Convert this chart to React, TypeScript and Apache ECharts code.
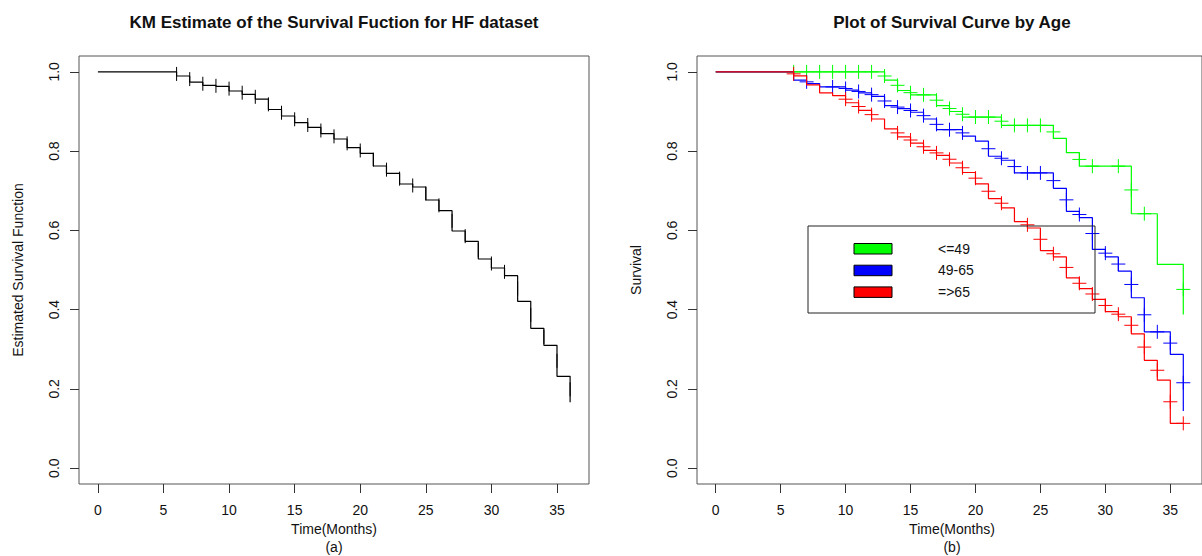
import React, { useEffect, useRef } from "react";
import * as echarts from "echarts";

// ---- Data ----
const xTicks = [0, 5, 10, 15, 20, 25, 30, 35];
const yTicks = [0, 0.2, 0.4, 0.6, 0.8, 1.0];

// (a) overall KM estimate: event times and survival after each drop
const kmTimes = [0, 6, 7, 8, 9, 10, 11, 12, 13, 14, 15, 16, 17, 18, 19, 20, 21, 22, 23, 24, 25, 26, 27, 28, 29, 30, 31, 32, 33, 34, 35, 36];
const kmSurv = [1.0, 0.9895, 0.974, 0.966, 0.9635, 0.9517, 0.943, 0.931, 0.905, 0.8886, 0.872, 0.86, 0.844, 0.8306, 0.8086, 0.7945, 0.7624, 0.744, 0.717, 0.7095, 0.6766, 0.6497, 0.5984, 0.5724, 0.5278, 0.505, 0.4857, 0.421, 0.3528, 0.31, 0.2318, 0.166];
const kmMarks = [6, 7, 8, 9, 10, 11, 12, 13, 14, 15, 16, 17, 18, 19, 20, 21, 22, 23, 24, 25, 26, 27, 28, 29, 30, 31, 32, 33, 34, 35, 36];

// (b) by age group
const groupNames = ["<=49", "49-65", "=>65"];
const groupColors = ["#00ff00", "#0000ff", "#ff0000"];

const greenTimes = [0, 13, 14, 15, 17, 18, 19, 22, 26, 27, 28, 32, 34, 36];
const greenSurv = [1.0, 0.979, 0.953, 0.942, 0.915, 0.9, 0.886, 0.865, 0.832, 0.796, 0.762, 0.642, 0.514, 0.388];
const greenMarks = [6, 7, 8, 9, 10, 11, 12, 13, 14, 15, 16, 17, 18, 19, 20, 21, 22, 23, 24, 25, 26, 28, 29, 31, 32, 33, 36];

const blueTimes = [0, 6, 7, 8, 10, 11, 12, 13, 14, 15, 16, 17, 19, 20, 21, 22, 23, 26, 27, 28, 29, 30, 31, 32, 33, 35, 36];
const blueSurv = [1.0, 0.979, 0.9705, 0.962, 0.954, 0.947, 0.938, 0.915, 0.907, 0.898, 0.881, 0.854, 0.838, 0.825, 0.787, 0.777, 0.745, 0.706, 0.648, 0.632, 0.552, 0.533, 0.497, 0.43, 0.344, 0.287, 0.144];
const blueMarks = [7, 9, 10, 11, 12, 13, 14, 15, 16, 17, 18, 19, 21, 22, 23, 24, 25, 26, 27, 28, 29, 30, 31, 32, 33, 34, 35, 36];

const redTimes = [0, 6, 7, 8, 9, 10, 11, 12, 13, 14, 15, 16, 17, 18, 19, 20, 21, 22, 23, 24, 25, 26, 27, 28, 29, 30, 31, 32, 33, 34, 35, 36];
const redSurv = [1.0, 0.99, 0.967, 0.947, 0.94, 0.922, 0.903, 0.881, 0.856, 0.836, 0.82, 0.802, 0.789, 0.77, 0.746, 0.7175, 0.68, 0.657, 0.622, 0.606, 0.549, 0.533, 0.48, 0.453, 0.426, 0.395, 0.382, 0.339, 0.272, 0.222, 0.113, 0.113];
const redMarks = [6, 10, 11, 12, 14, 15, 16, 17, 18, 19, 20, 21, 22, 24, 25, 26, 27, 28, 29, 30, 31, 32, 33, 34, 35, 36];

const FONT = "'Liberation Sans', Arial, Helvetica, sans-serif";

function survAt(times: number[], surv: number[], t: number) {
  let s = surv[0];
  for (let i = 0; i < times.length; i++) if (times[i] <= t) s = surv[i];
  return s;
}
function survBefore(times: number[], surv: number[], t: number) {
  let s = surv[0];
  for (let i = 0; i < times.length; i++) if (times[i] < t) s = surv[i];
  return s;
}
function markData(times: number[], surv: number[], marks: number[]) {
  return marks.map((t) => [t, (survBefore(times, surv, t) + survAt(times, surv, t)) / 2]);
}
function pairs(times: number[], surv: number[]) {
  return times.map((t, i) => [t, surv[i]]);
}

function markSeries(data: number[][], color: string, gi: number, cross: boolean, z: number) {
  return {
    type: "custom",
    xAxisIndex: gi,
    yAxisIndex: gi,
    silent: true,
    z,
    data,
    encode: { x: 0, y: 1 },
    renderItem: (params: any, api: any) => {
      const p = api.coord([api.value(0), api.value(1)]);
      const h = 7;
      const children: any[] = [
        { type: "line", shape: { x1: p[0], y1: p[1] - h, x2: p[0], y2: p[1] + h }, style: { stroke: color, lineWidth: 1 } },
      ];
      if (cross) {
        children.push({ type: "line", shape: { x1: p[0] - h, y1: p[1], x2: p[0] + h, y2: p[1] }, style: { stroke: color, lineWidth: 1 } });
      }
      return { type: "group", children };
    },
  };
}

function lineSeries(data: number[][], color: string, gi: number, z: number) {
  return {
    type: "line",
    xAxisIndex: gi,
    yAxisIndex: gi,
    data,
    step: "end",
    symbol: "none",
    silent: true,
    z,
    lineStyle: { color, width: 1.2 },
  };
}

const GRID_TOP = 56;
const GRID_H = 428;
const GRID_W = 510;
const LEFTS = [79, 697];

function xAxisFor(gi: number) {
  return {
    type: "value",
    gridIndex: gi,
    position: "bottom",
    min: -1.44,
    max: 37.44,
    axisLine: { show: false, onZero: false },
    splitLine: { show: false },
    axisTick: { show: true, inside: false, length: 9, customValues: xTicks, lineStyle: { color: "#333", width: 1 } },
    axisLabel: { customValues: xTicks, margin: 19, fontSize: 14, color: "#111", fontFamily: FONT },
  };
}
function yAxisFor(gi: number) {
  return {
    type: "value",
    gridIndex: gi,
    position: "left",
    min: -0.04,
    max: 1.04,
    axisLine: { show: false, onZero: false },
    splitLine: { show: false },
    axisTick: { show: true, inside: false, length: 9, customValues: yTicks, lineStyle: { color: "#333", width: 1 } },
    axisLabel: {
      customValues: yTicks,
      rotate: 90,
      margin: 18,
      fontSize: 14,
      color: "#111",
      fontFamily: FONT,
      formatter: (v: number) => v.toFixed(1),
    },
  };
}

function txt(text: string, x: number, y: number, opts: any = {}) {
  return {
    type: "text",
    x,
    y,
    rotation: opts.rotation || 0,
    silent: true,
    style: {
      text,
      align: opts.align || "center",
      verticalAlign: "middle",
      fontSize: opts.fontSize || 14,
      fontWeight: opts.fontWeight || "normal",
      fontFamily: FONT,
      fill: "#111",
    },
  };
}

export default function App() {
  const ref = useRef<HTMLDivElement>(null);
  useEffect(() => {
    if (!ref.current) return;
    const chart = echarts.init(ref.current, undefined, { renderer: "svg" });

    const legendX = 808;
    const legendY = 226;
    const legendItems = groupNames.map((name, i) => [
      {
        type: "rect",
        silent: true,
        shape: { x: 854, y: 243.5 + i * 21.7, width: 38, height: 10.5 },
        style: { fill: groupColors[i], stroke: "#000", lineWidth: 1 },
      },
      txt(name, 938, 248.7 + i * 21.7, { align: "left" }),
    ]).flat();

    const option: any = {
      animation: false,
      backgroundColor: "#fff",
      grid: LEFTS.map((l) => ({
        left: l,
        top: GRID_TOP,
        width: GRID_W,
        height: GRID_H,
        show: true,
        borderColor: "#555",
        borderWidth: 1,
        backgroundColor: "transparent",
      })),
      xAxis: [xAxisFor(0), xAxisFor(1)],
      yAxis: [yAxisFor(0), yAxisFor(1)],
      series: [
        lineSeries(pairs(kmTimes, kmSurv), "#000", 0, 2),
        markSeries(markData(kmTimes, kmSurv, kmMarks), "#000", 0, false, 3),
        lineSeries(pairs(greenTimes, greenSurv), groupColors[0], 1, 2),
        markSeries(markData(greenTimes, greenSurv, greenMarks), groupColors[0], 1, true, 3),
        lineSeries(pairs(blueTimes, blueSurv), groupColors[1], 1, 4),
        markSeries(markData(blueTimes, blueSurv, blueMarks), groupColors[1], 1, true, 5),
        lineSeries(pairs(redTimes, redSurv), groupColors[2], 1, 6),
        markSeries(markData(redTimes, redSurv, redMarks), groupColors[2], 1, true, 7),
      ],
      graphic: [
        txt("KM Estimate of the Survival Fuction for HF dataset", 334, 22, { fontSize: 17, fontWeight: "bold" }),
        txt("Plot of Survival Curve by Age", 952, 22, { fontSize: 17, fontWeight: "bold" }),
        txt("Time(Months)", 334, 529),
        txt("(a)", 334, 547),
        txt("Time(Months)", 952, 529),
        txt("(b)", 952, 547),
        txt("Estimated Survival Function", 18, 270, { rotation: Math.PI / 2 }),
        txt("Survival", 636, 270, { rotation: Math.PI / 2 }),
        {
          type: "rect",
          silent: true,
          z: 10,
          shape: { x: legendX, y: legendY, width: 287, height: 87 },
          style: { fill: "none", stroke: "#222", lineWidth: 1 },
        },
        ...legendItems,
      ],
    };
    chart.setOption(option);
    return () => chart.dispose();
  }, []);
  return (
    <div
      ref={ref}
      style={{ position: "fixed", left: 0, top: 0, width: 1202, height: 556, background: "#fff" }}
    />
  );
}
